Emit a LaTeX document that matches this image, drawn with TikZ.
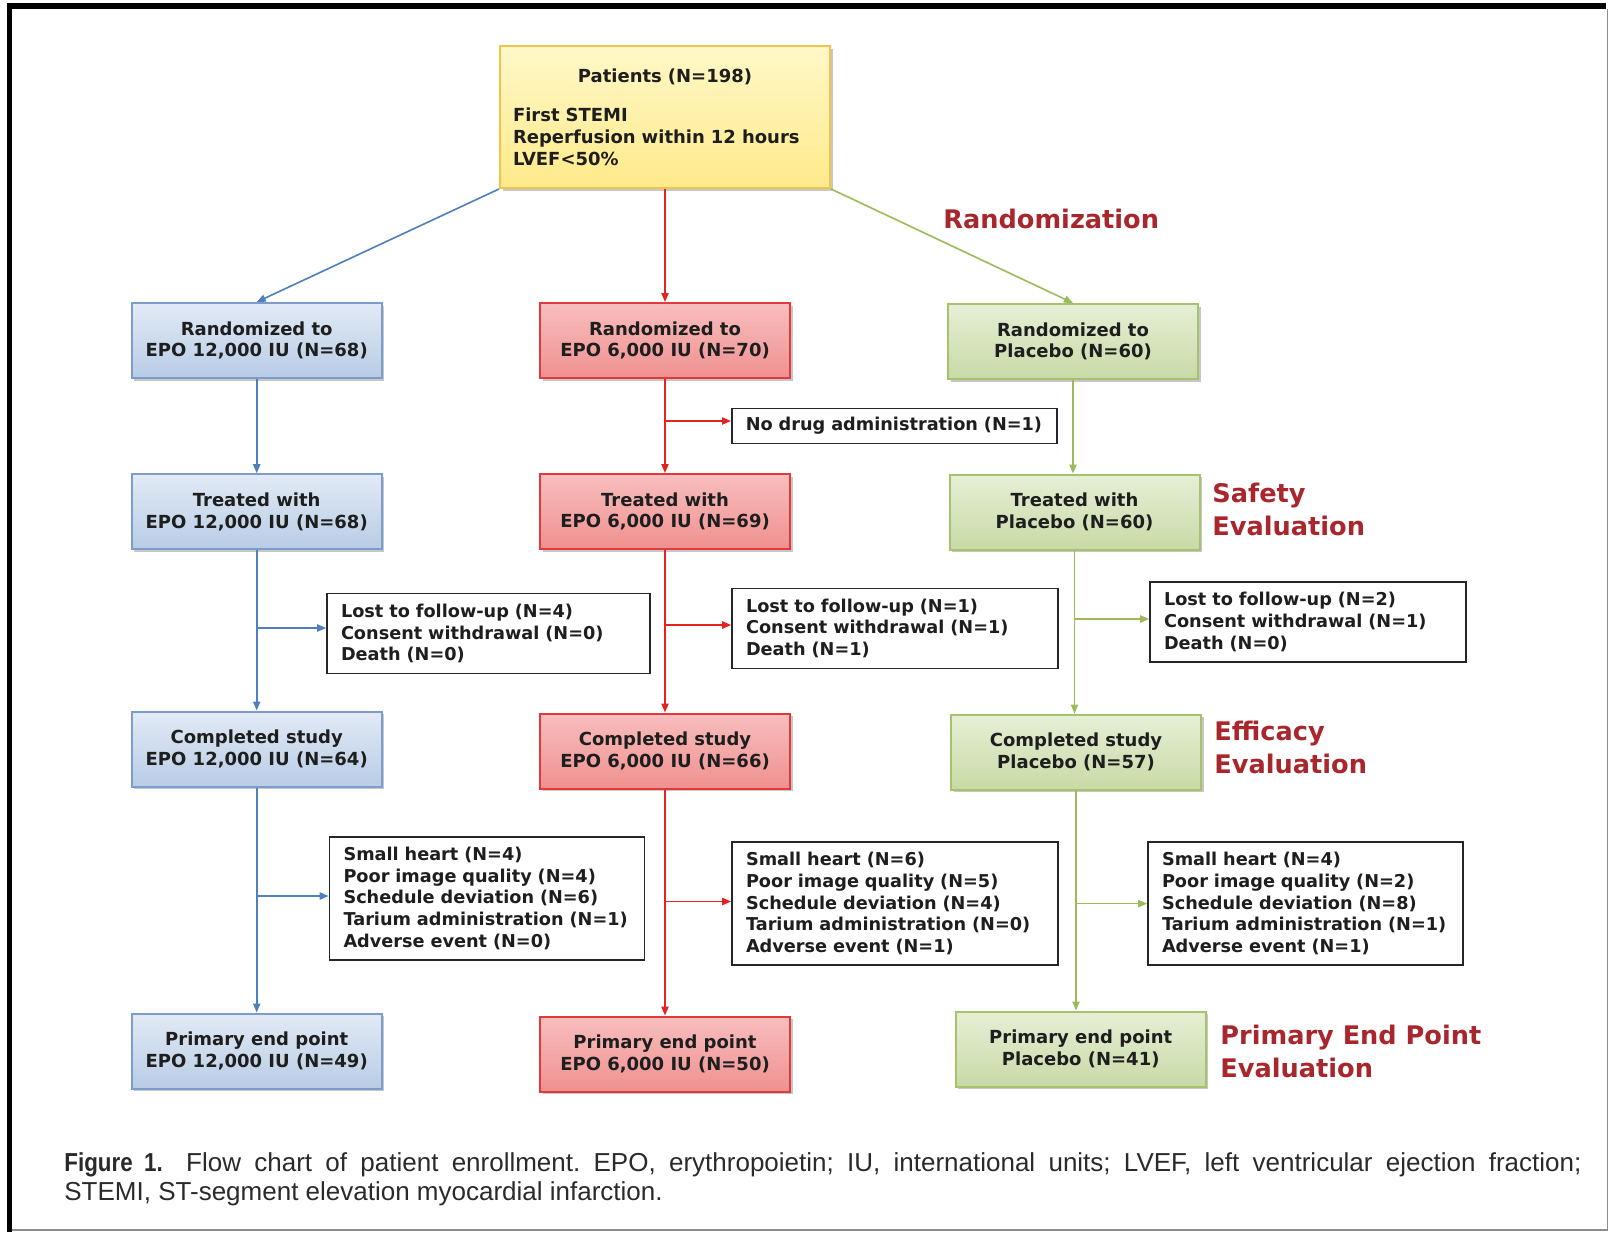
\documentclass[tikz,border=0pt]{standalone}
\usepackage{fontspec}
\setmainfont{DejaVu Sans}
\newfontfamily\capfont{Liberation Sans}
\newfontfamily\figfont[FakeStretch=0.86]{Liberation Sans}
\usetikzlibrary{arrows.meta,shadows,calc}
\definecolor{txt}{HTML}{1E1E1E}
\definecolor{blueT}{HTML}{E2EAF5}
\definecolor{blueB}{HTML}{B8CCE6}
\definecolor{blueL}{HTML}{7C9DCB}
\definecolor{blueA}{HTML}{4F7FBC}
\definecolor{redT}{HTML}{F8BEBE}
\definecolor{redB}{HTML}{F09090}
\definecolor{redL}{HTML}{E23A3A}
\definecolor{redA}{HTML}{E2231F}
\definecolor{grnT}{HTML}{E6EFD6}
\definecolor{grnB}{HTML}{C8DAA6}
\definecolor{grnL}{HTML}{A5C26C}
\definecolor{grnA}{HTML}{9BBB59}
\definecolor{yelT}{HTML}{FFF8C8}
\definecolor{yelB}{HTML}{FFEA8A}
\definecolor{yelL}{HTML}{F2C24A}
\definecolor{labred}{HTML}{A8262C}
\definecolor{captxt}{HTML}{2A2A2A}
\begin{document}
\begin{tikzpicture}[x=0.5pt,y=-0.5pt,
  boxfont/.style={font=\bfseries\fontsize{9}{10.8}\selectfont, text=txt},
  sidefont/.style={font=\bfseries\fontsize{8.85}{10.8}\selectfont, text=txt},
  colbox/.style={boxfont, draw, line width=1pt, minimum width=125pt, minimum height=37.5pt,
    inner sep=0pt, align=center,
    drop shadow={shadow xshift=1.3pt, shadow yshift=-1.3pt, opacity=0.22, fill=black}},
  bluebox/.style={colbox, draw=blueL, top color=blueT, bottom color=blueB},
  redbox/.style={colbox, draw=redL, top color=redT, bottom color=redB},
  grnbox/.style={colbox, draw=grnL, top color=grnT, bottom color=grnB},
  yelbox/.style={boxfont, draw=yelL, line width=1pt, top color=yelT, bottom color=yelB,
    text width=152pt, inner xsep=6.5pt, inner ysep=0pt, minimum height=71pt, align=left,
    drop shadow={shadow xshift=1.3pt, shadow yshift=-1.3pt, opacity=0.22, fill=black}},
  sidebox/.style={sidefont, draw=black!85, line width=0.8pt, fill=white, inner xsep=7pt,
    inner ysep=0pt, align=left},
  lab/.style={font=\bfseries\fontsize{12.8}{16.5}\selectfont, text=labred, align=left,
    anchor=west, inner sep=0pt},
  arr/.style={-{Triangle[length=4.5pt,width=3.6pt]}, line width=0.8pt}
]
\useasboundingbox (0,0) rectangle (1610,1232);
% frame
\fill[black] (7,3) rectangle (1606,9);
\fill[black] (7,3) rectangle (12,1232);
\draw[black!45, line width=0.7pt] (1607.5,9) -- (1607.5,1230) -- (12,1230);

% top box
\node[yelbox] (pat) at (665,117) {\makebox[\linewidth][c]{Patients (N=198)}\\[9pt]First STEMI\\Reperfusion within 12 hours\\LVEF<50\%};

% blue column
\node[bluebox] (br) at (256.7,340.5) {Randomized to\\EPO 12,000 IU (N=68)};
\node[bluebox] (bt) at (256.7,511.7) {Treated with\\EPO 12,000 IU (N=68)};
\node[bluebox] (bc) at (256.7,749) {Completed study\\EPO 12,000 IU (N=64)};
\node[bluebox] (bp) at (256.7,1051) {Primary end point\\EPO 12,000 IU (N=49)};
% red column
\node[redbox] (rr) at (665,340.5) {Randomized to\\EPO 6,000 IU (N=70)};
\node[redbox] (rt) at (665,511.5) {Treated with\\EPO 6,000 IU (N=69)};
\node[redbox] (rc) at (665,751) {Completed study\\EPO 6,000 IU (N=66)};
\node[redbox] (rp) at (665,1054) {Primary end point\\EPO 6,000 IU (N=50)};
% green column
\node[grnbox] (gr) at (1073,341.5) {Randomized to\\Placebo (N=60)};
\node[grnbox] (gt) at (1074.5,512) {Treated with\\Placebo (N=60)};
\node[grnbox] (gc) at (1076,752) {Completed study\\Placebo (N=57)};
\node[grnbox] (gp) at (1080.7,1049) {Primary end point\\Placebo (N=41)};

% side boxes
\node[sidebox, text width=148.5pt, minimum height=17.5pt] (nd) at (894.3,426) {No drug administration (N=1)};
\node[sidebox, text width=147.5pt, minimum height=40pt] (bl) at (488.5,633.5) {Lost to follow-up (N=4)\\Consent withdrawal (N=0)\\Death (N=0)};
\node[sidebox, text width=149pt, minimum height=40pt] (rl) at (895,628.4) {Lost to follow-up (N=1)\\Consent withdrawal (N=1)\\Death (N=1)};
\node[sidebox, text width=144pt, minimum height=40pt] (gl) at (1308,622) {Lost to follow-up (N=2)\\Consent withdrawal (N=1)\\Death (N=0)};
\node[sidebox, text width=143.5pt, minimum height=61.5pt] (bs) at (487,898.4) {Small heart (N=4)\\Poor image quality (N=4)\\Schedule deviation (N=6)\\Tarium administration (N=1)\\Adverse event (N=0)};
\node[sidebox, text width=149pt, minimum height=61.5pt] (rs) at (895,903.5) {Small heart (N=6)\\Poor image quality (N=5)\\Schedule deviation (N=4)\\Tarium administration (N=0)\\Adverse event (N=1)};
\node[sidebox, text width=143.5pt, minimum height=61.5pt] (gs) at (1305.5,903.5) {Small heart (N=4)\\Poor image quality (N=2)\\Schedule deviation (N=8)\\Tarium administration (N=1)\\Adverse event (N=1)};

% labels
\node[lab] (lrand) at (943,219) {Randomization};
\node[lab] (lsafe) at (1212,509.5) {Safety\\Evaluation};
\node[lab] (leff) at (1214,747.5) {Efficacy\\Evaluation};
\node[lab] (lprim) at (1220,1051.5) {Primary End Point\\Evaluation};

% connectors from top
\draw[arr, blueA] (pat.south west) -- (br.north);
\draw[arr, redA] (pat.south) -- (rr.north);
\draw[arr, grnA] (pat.south east) -- (gr.north);

% blue column connectors
\draw[arr, blueA] (br.south) -- (bt.north);
\draw[arr, blueA] (bt.south) -- (bc.north);
\draw[arr, blueA] (bc.south) -- (bp.north);
\coordinate (bj1) at (256.7,628);
\coordinate (bj2) at (256.7,896);
\draw[arr, blueA] (bj1) -- (bj1 -| bl.west);
\draw[arr, blueA] (bj2) -- (bj2 -| bs.west);

% red column connectors
\draw[arr, redA] (rr.south) -- (rt.north);
\draw[arr, redA] (rt.south) -- (rc.north);
\draw[arr, redA] (rc.south) -- (rp.north);
\coordinate (rj0) at (665,421);
\coordinate (rj1) at (665,625);
\coordinate (rj2) at (665,901.5);
\draw[arr, redA] (rj0) -- (rj0 -| nd.west);
\draw[arr, redA] (rj1) -- (rj1 -| rl.west);
\draw[arr, redA] (rj2) -- (rj2 -| rs.west);

% green column connectors
\draw[arr, grnA] (gr.south) -- (gr.south |- gt.north);
\draw[arr, grnA] (gt.south) -- (gt.south |- gc.north);
\draw[arr, grnA] (gc.south) -- (gc.south |- gp.north);
\coordinate (gj1) at (1074.5,619);
\coordinate (gj2) at (1076,903.6);
\draw[arr, grnA] (gj1) -- (gj1 -| gl.west);
\draw[arr, grnA] (gj2) -- (gj2 -| gs.west);

% caption
\node[anchor=north west, inner sep=0pt, text width=758.5pt, align=justify,
  font=\capfont\fontsize{13}{14.5}\selectfont\frenchspacing, text=captxt] (cap) at (64,1151)
  {\strut{\figfont\bfseries Figure 1.}\hspace{0.9em}Flow chart of patient enrollment. EPO, erythropoietin; IU, international units; LVEF, left ventricular ejection fraction;\linebreak STEMI, ST-segment elevation myocardial infarction.};
\end{tikzpicture}
\end{document}
